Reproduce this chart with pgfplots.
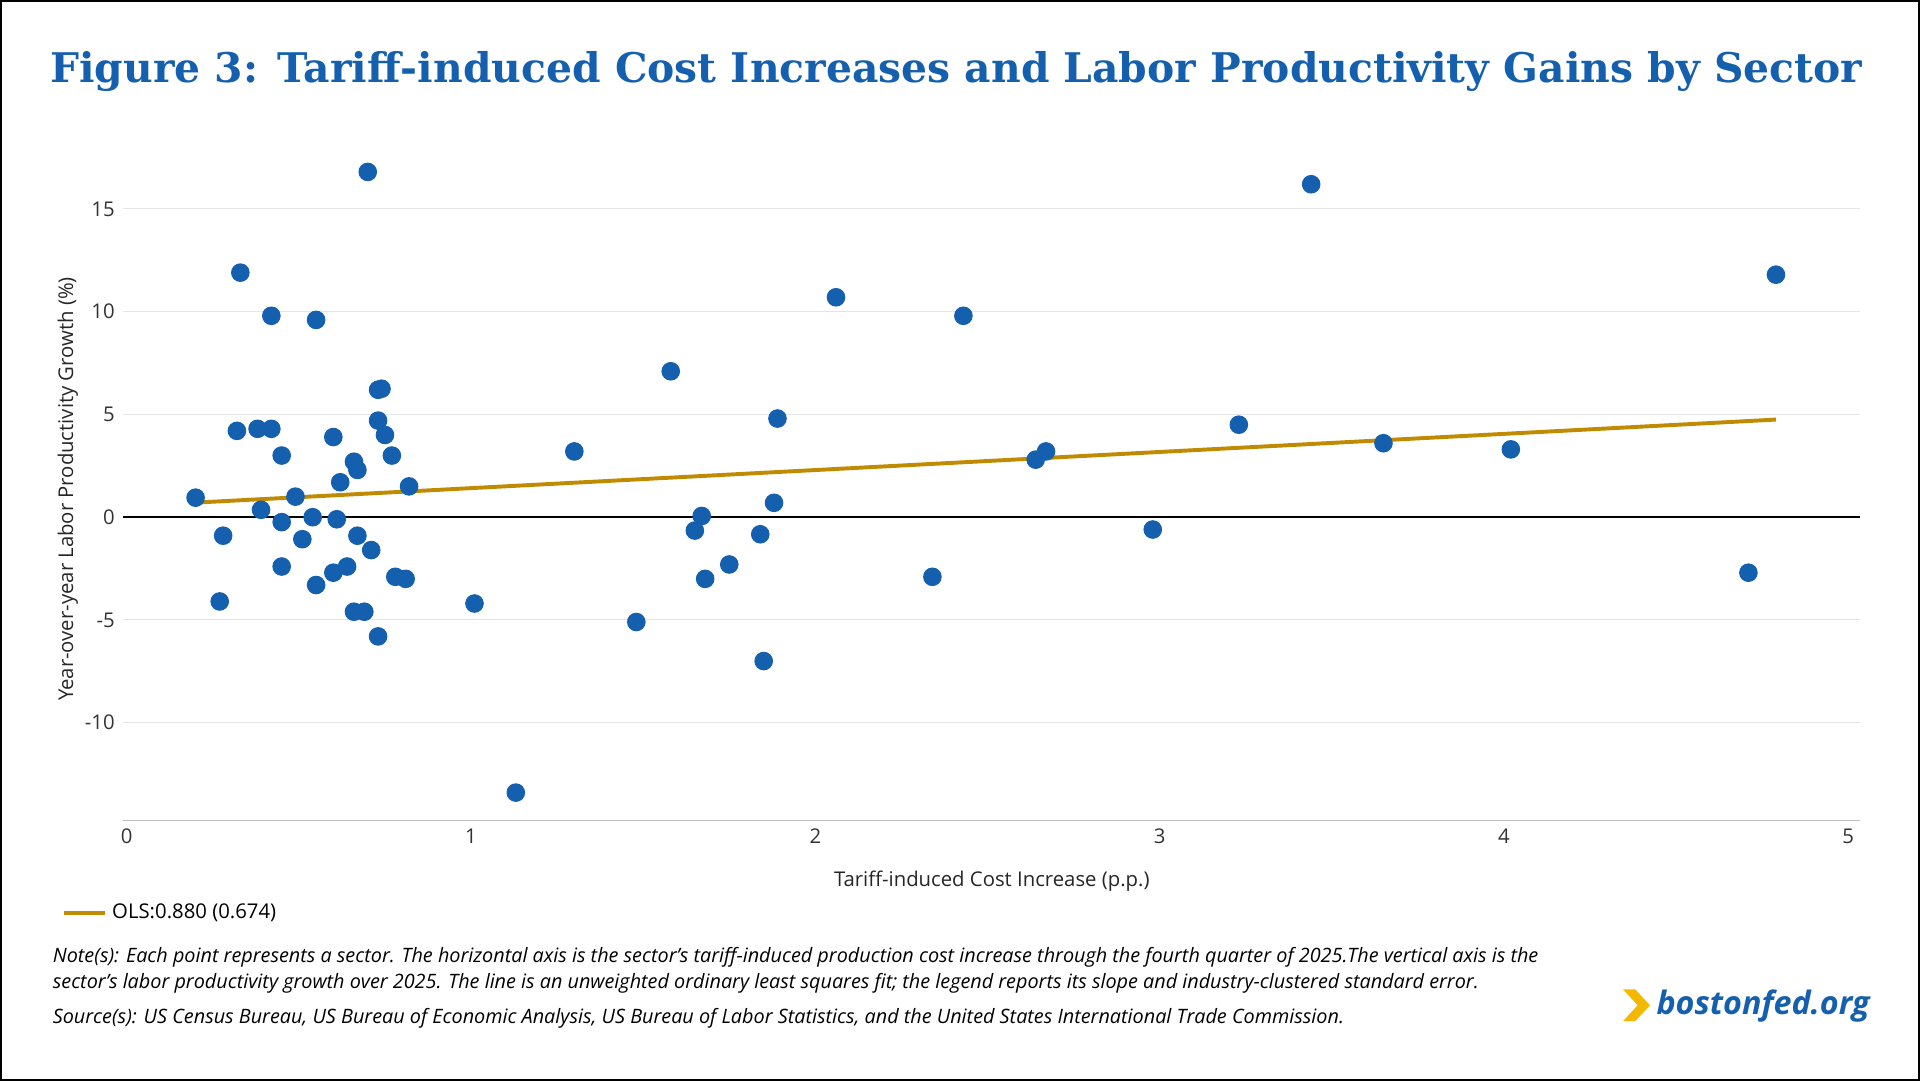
\documentclass[border=0pt]{standalone}
\usepackage{pgfplots}
\pgfplotsset{compat=1.18}
\usepackage{fontspec}
\setmainfont{Open Sans}
\newfontfamily\titlefont{DejaVu Serif}
\definecolor{fedblue}{HTML}{1560AE}
\definecolor{olsgold}{HTML}{C08B00}
\definecolor{logoyel}{HTML}{F5B800}
\begin{document}
\begin{tikzpicture}[x=1pt,y=1pt]
\draw[black,line width=0.8pt] (0,0) rectangle (784,441);
\node[anchor=west,font=\titlefont\bfseries\fontsize{16.7}{20}\selectfont,text=fedblue,inner sep=0] at (20,412) {Figure 3: Tariff-induced Cost Increases and Labor Productivity Gains by Sector};
\begin{axis}[at={(50pt,106pt)},anchor=south west,scale only axis,width=710pt,height=271pt,
 xmin=-0.01,xmax=5.035,ymin=-14.76,ymax=17.5,
 axis line style={draw=none},
 xtick={0,1,2,3,4,5},ytick={-10,-5,0,5,10,15},
 ymajorgrids,grid style={gray!20},tick style={draw=none},
 tick label style={font=\fontsize{8.3}{10}\selectfont,text=black!80},
 /pgf/number format/assume math mode=true,
 xlabel={Tariff-induced Cost Increase (p.p.)},
 ylabel={Year-over-year Labor Productivity Growth (\%)},
 label style={font=\fontsize{8.3}{10}\selectfont,text=black!85},
 xlabel style={yshift=-4pt},ylabel style={yshift=-4pt},
 legend style={at={(-0.04,-0.11)},anchor=north west,draw=none,fill=none,font=\fontsize{8.3}{10}\selectfont},
 legend cell align=left,
 clip=false]
\draw[gray!50] (axis cs:-0.01,-14.76) -- (axis cs:5.035,-14.76);
\draw[black,line width=0.6pt] (axis cs:-0.01,0) -- (axis cs:5.035,0);
\addplot[only marks,mark=*,mark size=3.6pt,mark options={fill=fedblue,draw=fedblue},forget plot] coordinates {
(0.20,0.95)(0.28,-0.9)(0.27,-4.1)(0.33,11.9)(0.32,4.2)(0.38,4.3)(0.39,0.36)(0.42,9.8)(0.42,4.3)
(0.45,3.0)(0.45,-0.24)(0.45,-2.4)(0.49,1.0)(0.51,-1.07)(0.54,0)(0.55,-3.3)(0.55,9.6)(0.60,3.9)
(0.60,-2.7)(0.61,-0.1)(0.62,1.7)(0.64,-2.4)(0.66,2.7)(0.67,2.3)(0.67,-0.9)(0.66,-4.6)(0.69,-4.6)
(0.70,16.8)(0.71,-1.6)(0.73,6.2)(0.74,6.25)(0.73,4.7)(0.75,4.0)(0.77,3.0)(0.73,-5.8)(0.78,-2.9)
(0.81,-3.0)(0.82,1.5)(1.01,-4.2)(1.13,-13.4)(1.30,3.2)(1.48,-5.1)(1.58,7.1)(1.65,-0.65)(1.67,0.06)
(1.68,-3.0)(1.75,-2.3)(1.84,-0.83)(1.85,-7.0)(1.88,0.7)(1.89,4.8)(2.06,10.7)(2.34,-2.9)(2.43,9.8)
(2.64,2.8)(2.67,3.2)(2.98,-0.6)(3.23,4.5)(3.44,16.2)(3.65,3.6)(4.02,3.3)(4.71,-2.7)(4.79,11.8)};
\addplot[olsgold,line width=1.6pt] coordinates {(0.20,0.71)(4.79,4.75)};
\addlegendentry{OLS:0.880 (0.674)}
\end{axis}
\begin{scope}[every node/.style={anchor=west,font=\itshape\fontsize{8.1}{9.5}\selectfont,inner sep=0}]
\node at (21,50) {Note(s): Each point represents a sector. The horizontal axis is the sector's tariff-induced production cost increase through the fourth quarter of 2025.The vertical axis is the};
\node at (21,39.5) {sector’s labor productivity growth over 2025. The line is an unweighted ordinary least squares fit; the legend reports its slope and industry-clustered standard error.};
\node at (21,25) {Source(s): US Census Bureau, US Bureau of Economic Analysis, US Bureau of Labor Statistics, and the United States International Trade Commission.};
\end{scope}
\fill[logoyel] (663,37)--(668,37)--(674,30.5)--(668,24)--(663,24)--(669,30.5)--cycle;
\node[anchor=east,font=\bfseries\itshape\fontsize{13.2}{16}\selectfont,text=fedblue,inner sep=0] at (764,30) {bostonfed.org};
\end{tikzpicture}
\end{document}
